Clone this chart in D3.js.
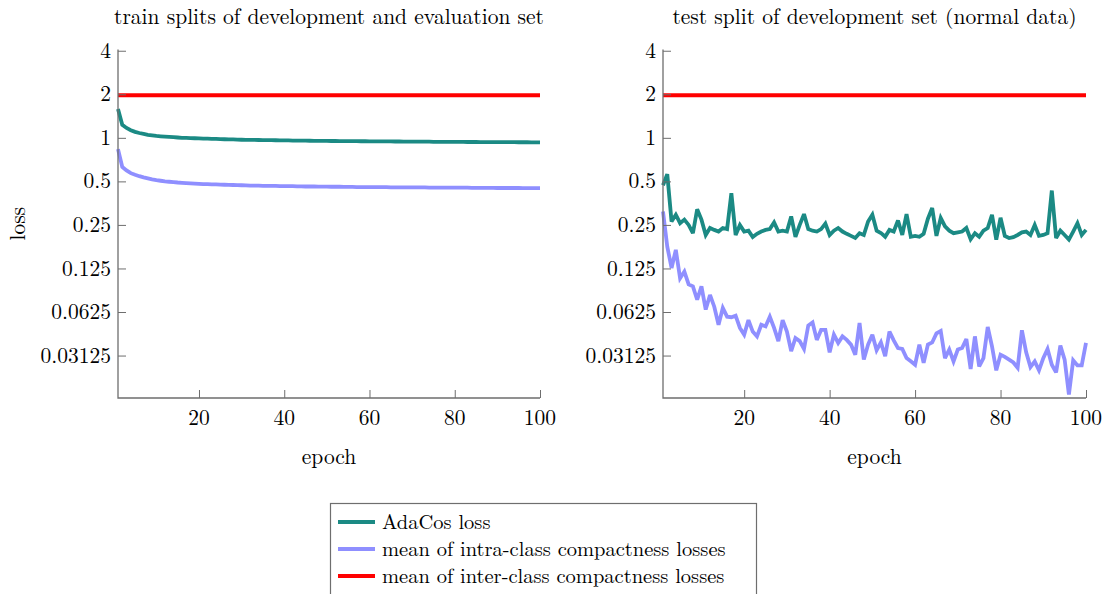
<!DOCTYPE html>
<html>
<head>
<meta charset="utf-8">
<script src="https://cdn.jsdelivr.net/npm/d3@7"></script>
<style>
  body { margin: 0; background: #fff; }
</style>
</head>
<body>
<div id="chart"></div>
<script>
// loss values, one per epoch (1..100)
const epochs = d3.range(1, 101);

const yTicks = [4, 2, 1, 0.5, 0.25, 0.125, 0.0625, 0.03125];
const yTickLabels = ["4", "2", "1", "0.5", "0.25", "0.125", "0.0625", "0.03125"];
const xTicks = [20, 40, 60, 80, 100];

const seriesNames = ["AdaCos loss", "mean of intra-class compactness losses", "mean of inter-class compactness losses"];
const seriesColors = ["#1b8a84", "#8f8fff", "#ff0000"];

const trainAdaCos = [1.58,1.23,1.17,1.13,1.10,1.08,1.065,1.05,1.04,1.03,
  1.025,1.02,1.015,1.01,1.005,1.0,0.998,0.995,0.993,0.99,
  0.988,0.986,0.984,0.982,0.98,0.978,0.977,0.975,0.972,0.97,
  0.969,0.968,0.967,0.966,0.965,0.964,0.963,0.962,0.961,0.96,
  0.959,0.958,0.957,0.956,0.955,0.955,0.954,0.953,0.953,0.952,
  0.951,0.951,0.95,0.95,0.949,0.948,0.948,0.947,0.947,0.946,
  0.946,0.945,0.945,0.944,0.944,0.943,0.943,0.942,0.942,0.941,
  0.941,0.94,0.94,0.94,0.939,0.939,0.938,0.938,0.938,0.937,
  0.937,0.937,0.936,0.936,0.936,0.935,0.935,0.935,0.934,0.934,
  0.934,0.933,0.933,0.933,0.932,0.932,0.932,0.931,0.931,0.93];

const trainIntra = [0.835,0.63,0.595,0.57,0.555,0.543,0.533,0.525,0.517,0.51,
  0.505,0.5,0.497,0.494,0.491,0.489,0.487,0.485,0.483,0.481,
  0.479,0.478,0.477,0.476,0.475,0.474,0.473,0.472,0.471,0.47,
  0.469,0.468,0.468,0.467,0.466,0.466,0.465,0.465,0.464,0.464,
  0.463,0.463,0.462,0.462,0.461,0.461,0.461,0.46,0.46,0.46,
  0.459,0.459,0.459,0.458,0.458,0.458,0.457,0.457,0.457,0.457,
  0.456,0.456,0.456,0.456,0.455,0.455,0.455,0.455,0.454,0.454,
  0.454,0.454,0.454,0.453,0.453,0.453,0.453,0.453,0.452,0.452,
  0.452,0.452,0.452,0.451,0.451,0.451,0.451,0.451,0.451,0.45,
  0.45,0.45,0.45,0.45,0.45,0.449,0.449,0.449,0.449,0.449];

const trainInter = [1.97,1.97,1.97,1.97,1.97,1.97,1.97,1.97,1.97,1.97,
  1.97,1.97,1.97,1.97,1.97,1.97,1.97,1.97,1.97,1.97,
  1.97,1.97,1.97,1.97,1.97,1.97,1.97,1.97,1.97,1.97,
  1.97,1.97,1.97,1.97,1.97,1.97,1.97,1.97,1.97,1.97,
  1.97,1.97,1.97,1.97,1.97,1.97,1.97,1.97,1.97,1.97,
  1.97,1.97,1.97,1.97,1.97,1.97,1.97,1.97,1.97,1.97,
  1.97,1.97,1.97,1.97,1.97,1.97,1.97,1.97,1.97,1.97,
  1.97,1.97,1.97,1.97,1.97,1.97,1.97,1.97,1.97,1.97,
  1.97,1.97,1.97,1.97,1.97,1.97,1.97,1.97,1.97,1.97,
  1.97,1.97,1.97,1.97,1.97,1.97,1.97,1.97,1.97,1.97];

const testAdaCos = [0.47,0.56,0.264,0.294,0.257,0.272,0.25,0.219,0.321,0.272,
  0.213,0.238,0.231,0.225,0.238,0.234,0.414,0.213,0.25,0.225,
  0.228,0.206,0.217,0.225,0.231,0.234,0.26,0.225,0.228,0.225,
  0.286,0.207,0.25,0.297,0.234,0.228,0.225,0.234,0.255,0.213,
  0.228,0.238,0.225,0.217,0.21,0.203,0.219,0.213,0.264,0.294,
  0.228,0.22,0.207,0.231,0.225,0.268,0.213,0.297,0.207,0.21,
  0.207,0.217,0.276,0.327,0.21,0.279,0.244,0.228,0.219,0.222,
  0.225,0.238,0.199,0.219,0.207,0.228,0.238,0.294,0.198,0.28,
  0.21,0.203,0.206,0.213,0.222,0.225,0.213,0.25,0.21,0.213,
  0.219,0.432,0.203,0.228,0.213,0.198,0.225,0.257,0.213,0.231];

const testIntra = [0.31,0.177,0.126,0.168,0.107,0.119,0.097,0.094,0.076,0.094,
  0.065,0.082,0.068,0.051,0.0666,0.058,0.0575,0.059,0.0485,0.0436,
  0.055,0.0458,0.0424,0.051,0.0497,0.058,0.0485,0.0393,0.055,0.0458,
  0.0335,0.0413,0.0393,0.0347,0.0504,0.0529,0.0401,0.047,0.047,0.0329,
  0.0436,0.0382,0.0424,0.0401,0.0372,0.0317,0.0525,0.0293,0.0372,0.0436,
  0.034,0.0385,0.0309,0.0458,0.0398,0.0352,0.0347,0.030,0.0285,0.027,
  0.0372,0.0278,0.0372,0.0385,0.0445,0.0462,0.030,0.0344,0.0285,0.0344,
  0.0352,0.0407,0.0252,0.0424,0.0263,0.030,0.0493,0.0362,0.0247,0.0317,
  0.0306,0.0293,0.028,0.0257,0.0467,0.0329,0.026,0.0285,0.0247,0.030,
  0.0347,0.027,0.0239,0.0366,0.0293,0.0168,0.029,0.0267,0.0267,0.0382];

const testInter = [1.97,1.97,1.97,1.97,1.97,1.97,1.97,1.97,1.97,1.97,
  1.97,1.97,1.97,1.97,1.97,1.97,1.97,1.97,1.97,1.97,
  1.97,1.97,1.97,1.97,1.97,1.97,1.97,1.97,1.97,1.97,
  1.97,1.97,1.97,1.97,1.97,1.97,1.97,1.97,1.97,1.97,
  1.97,1.97,1.97,1.97,1.97,1.97,1.97,1.97,1.97,1.97,
  1.97,1.97,1.97,1.97,1.97,1.97,1.97,1.97,1.97,1.97,
  1.97,1.97,1.97,1.97,1.97,1.97,1.97,1.97,1.97,1.97,
  1.97,1.97,1.97,1.97,1.97,1.97,1.97,1.97,1.97,1.97,
  1.97,1.97,1.97,1.97,1.97,1.97,1.97,1.97,1.97,1.97,
  1.97,1.97,1.97,1.97,1.97,1.97,1.97,1.97,1.97,1.97];

const width = 1111, height = 594;
const plotTop = 49.5, plotBottom = 398;
const axisColor = "#6e6e6e";
const fontSize = "21.5px";

const svg = d3.select("#chart")
  .append("svg")
  .attr("width", width)
  .attr("height", height)
  .attr("font-family", "'Latin Modern Roman', 'Liberation Serif', serif");

const yScale = d3.scaleLog().base(2)
  .domain([0.0159, 4.08])
  .range([plotBottom, plotTop]);

function drawPanel(x0, x1, title, lines, showYLabel) {
  const xScale = d3.scaleLinear().domain([1, 100]).range([x0, x1]);
  const g = svg.append("g");

  // series (drawn under the axes)
  const line = d3.line()
    .x((d, i) => xScale(epochs[i]))
    .y(d => yScale(d));
  lines.forEach((vals, k) => {
    g.append("path")
      .datum(vals)
      .attr("d", line)
      .attr("fill", "none")
      .attr("stroke", seriesColors[k])
      .attr("stroke-width", 3.8)
      .attr("stroke-linejoin", "miter")
      .attr("stroke-miterlimit", 3);
  });

  // y axis: line on the left, short ticks inside
  const yAxis = g.append("g")
    .attr("transform", `translate(${x0},0)`)
    .call(d3.axisRight(yScale).tickValues(yTicks).tickFormat("").tickSize(8));
  yAxis.select(".domain").remove();
  yAxis.selectAll("line").attr("stroke", axisColor);
  g.selectAll(null)
    .data(yTicks)
    .enter()
    .append("text")
      .attr("x", x0 - 7)
      .attr("y", d => yScale(d))
      .attr("dy", "0.33em")
      .attr("text-anchor", "end")
      .attr("font-size", fontSize)
      .text((d, i) => yTickLabels[i]);

  // x axis: ticks pointing up
  const xAxis = g.append("g")
    .attr("transform", `translate(0,${plotBottom})`)
    .call(d3.axisTop(xScale).tickValues(xTicks).tickFormat("").tickSize(8));
  xAxis.select(".domain").remove();
  xAxis.selectAll("line").attr("stroke", axisColor);
  g.selectAll(null)
    .data(xTicks)
    .enter()
    .append("text")
      .attr("x", d => xScale(d))
      .attr("y", plotBottom + 20)
      .attr("dy", "0.33em")
      .attr("text-anchor", "middle")
      .attr("font-size", fontSize)
      .text(d => d);

  g.append("path")
    .attr("d", `M${x0},${plotTop}V${plotBottom}H${x1}`)
    .attr("fill", "none")
    .attr("stroke", axisColor)
    .attr("stroke-width", 1.3);

  g.append("text")
    .attr("x", (x0 + x1) / 2)
    .attr("y", 17)
    .attr("dy", "0.33em")
    .attr("text-anchor", "middle")
    .attr("font-size", fontSize)
    .text(title);

  g.append("text")
    .attr("x", (x0 + x1) / 2)
    .attr("y", 457)
    .attr("dy", "0.33em")
    .attr("text-anchor", "middle")
    .attr("font-size", fontSize)
    .text("epoch");

  if (showYLabel) {
    g.append("text")
      .attr("transform", `translate(18,${(plotTop + plotBottom) / 2}) rotate(-90)`)
      .attr("dy", "0.33em")
      .attr("text-anchor", "middle")
      .attr("font-size", fontSize)
      .text("loss");
  }
}

drawPanel(118, 540, "train splits of development and evaluation set",
  [trainAdaCos, trainIntra, trainInter], true);
drawPanel(663, 1086, "test split of development set (normal data)",
  [testAdaCos, testIntra, testInter], false);

// legend
const legend = svg.append("g");
legend.append("rect")
  .attr("x", 330.5).attr("y", 503.5)
  .attr("width", 426).attr("height", 100)
  .attr("fill", "#fff")
  .attr("stroke", axisColor)
  .attr("stroke-width", 1.2);
seriesNames.forEach((name, i) => {
  const yy = 522 + i * 27;
  legend.append("line")
    .attr("x1", 338).attr("x2", 375)
    .attr("y1", yy).attr("y2", yy)
    .attr("stroke", seriesColors[i])
    .attr("stroke-width", 3.8);
  legend.append("text")
    .attr("x", 382).attr("y", yy)
    .attr("dy", "0.33em")
    .attr("font-size", "20.5px")
    .text(name);
});
</script>
</body>
</html>
